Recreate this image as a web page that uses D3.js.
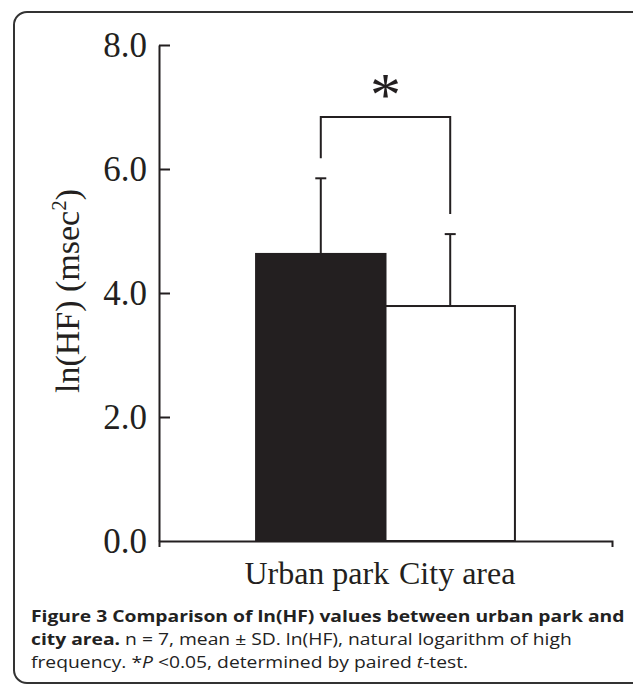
<!DOCTYPE html>
<html>
<head>
<meta charset="utf-8">
<script src="https://cdn.jsdelivr.net/npm/d3@7"></script>
<style>
  body { margin: 0; background: #fff; }
  svg { display: block; }
</style>
</head>
<body>
<div id="chart"></div>
<script>
// Data
var categories = ['Urban park', 'City area'];
var means = [4.63, 3.79];
var sds = [1.22, 1.16];
var yTicks = [0, 2, 4, 6, 8];
var sigLevel = 6.84;   // height of the significance bracket
var sigLabel = '*';

var width = 633;
var height = 686;
var ink = '#231f20';
var serif = '"Liberation Serif", "Times New Roman", serif';
var sans = '"Open Sans", "Noto Sans", sans-serif';

var svg = d3.select('#chart')
  .append('svg')
  .attr('width', width)
  .attr('height', height);

// rounded frame round the figure (runs off the right edge)
svg.append('rect')
  .attr('x', 14)
  .attr('y', 12)
  .attr('width', 660)
  .attr('height', 671)
  .attr('rx', 13)
  .attr('fill', 'none')
  .attr('stroke', '#333')
  .attr('stroke-width', 2);

// scales
var y = d3.scaleLinear().domain([0, 8]).range([541, 45]);
var x = d3.scaleBand()
  .domain(categories)
  .range([159, 612])
  .paddingInner(0)
  .paddingOuter(0.75);

var rows = categories.map(function (c, i) {
  return { name: c, mean: means[i], sd: sds[i] };
});

// bars
svg.selectAll('.bar')
  .data(rows)
  .enter().append('rect')
  .attr('class', 'bar')
  .attr('x', function (d) { return x(d.name); })
  .attr('y', function (d) { return y(d.mean); })
  .attr('width', x.bandwidth())
  .attr('height', function (d) { return y(0) - y(d.mean); })
  .attr('fill', function (d, i) { return i === 0 ? ink : '#fff'; })
  .attr('stroke', ink)
  .attr('stroke-width', 2);

// error bars (upper side only)
var cx = function (d) { return x(d.name) + x.bandwidth() / 2; };
var err = svg.selectAll('.err')
  .data(rows)
  .enter().append('g')
  .attr('class', 'err')
  .attr('stroke', ink)
  .attr('stroke-width', 2);

err.append('line')
  .attr('x1', cx).attr('x2', cx)
  .attr('y1', function (d) { return y(d.mean); })
  .attr('y2', function (d) { return y(d.mean + d.sd); });

err.append('line')
  .attr('x1', function (d) { return cx(d) - 5.5; })
  .attr('x2', function (d) { return cx(d) + 5.5; })
  .attr('y1', function (d) { return y(d.mean + d.sd); })
  .attr('y2', function (d) { return y(d.mean + d.sd); });

// significance bracket
var gap = 20;
var bx0 = cx(rows[0]), bx1 = cx(rows[1]);
svg.append('path')
  .attr('d', 'M' + bx0 + ',' + (y(rows[0].mean + rows[0].sd) - gap) +
    'V' + y(sigLevel) + 'H' + bx1 +
    'V' + (y(rows[1].mean + rows[1].sd) - gap))
  .attr('fill', 'none')
  .attr('stroke', ink)
  .attr('stroke-width', 2);

svg.append('text')
  .attr('x', (bx0 + bx1) / 2)
  .attr('y', y(sigLevel) - 2)
  .attr('text-anchor', 'middle')
  .attr('font-family', serif)
  .attr('font-size', 62)
  .attr('fill', ink)
  .text(sigLabel);

// y axis, ticks pointing into the plot
var yAxis = svg.append('g')
  .attr('transform', 'translate(159,0)')
  .call(d3.axisLeft(y)
    .tickValues(yTicks)
    .tickFormat(d3.format('.1f'))
    .tickSizeInner(-11)
    .tickSizeOuter(0)
    .tickPadding(12));

yAxis.selectAll('text')
  .attr('font-family', serif)
  .attr('font-size', 35)
  .attr('fill', ink);
yAxis.selectAll('line, path').attr('stroke', ink).attr('stroke-width', 2);
yAxis.selectAll('.tick').filter(function (d) { return d === 0; }).select('line').remove();

// x axis with little down ticks at both ends
var xAxis = svg.append('g')
  .attr('transform', 'translate(0,541)')
  .call(d3.axisBottom(x)
    .tickSizeInner(0)
    .tickSizeOuter(6)
    .tickPadding(20));

xAxis.selectAll('text')
  .attr('font-family', serif)
  .attr('font-size', 32)
  .attr('fill', ink)
  .attr('dx', function (d, i) { return i === 0 ? -4 : 7; });
xAxis.selectAll('path').attr('stroke', ink).attr('stroke-width', 2);

// y axis title
var yTitle = svg.append('text')
  .attr('transform', 'translate(79,291) rotate(-90)')
  .attr('text-anchor', 'middle')
  .attr('font-family', serif)
  .attr('font-size', 34)
  .attr('fill', ink);
yTitle.append('tspan').text('ln(HF) (msec');
yTitle.append('tspan').attr('font-size', 21).attr('dy', -13).text('2');
yTitle.append('tspan').attr('dy', 13).text(')');

// caption
var captionLines = [
  [{ t: 'Figure 3 Comparison of ln(HF) values between urban park and', w: 'bold' }],
  [{ t: 'city area.', w: 'bold' }, { t: ' n = 7, mean \u00b1 SD. ln(HF), natural logarithm of high' }],
  [{ t: 'frequency. *' }, { t: 'P', s: 'italic' }, { t: ' <0.05, determined by paired ' }, { t: 't', s: 'italic' }, { t: '-test.' }]
];

var caption = svg.append('g')
  .attr('font-family', sans)
  .attr('fill', '#222');

captionLines.forEach(function (line, i) {
  var txt = caption.append('text')
    .attr('x', 0)
    .attr('y', 622 + i * 23)
    .attr('font-size', 16.8);
  line.forEach(function (p) {
    txt.append('tspan')
      .attr('font-weight', p.w || 'normal')
      .attr('font-style', p.s || 'normal')
      .text(p.t);
  });
});

// the original caption face is narrower: squeeze horizontally so line one spans ~593px
var first = caption.select('text').node();
var sx = 593 / first.getComputedTextLength();
caption.attr('transform', 'translate(31,0) scale(' + sx + ',1)');
</script>
</body>
</html>
